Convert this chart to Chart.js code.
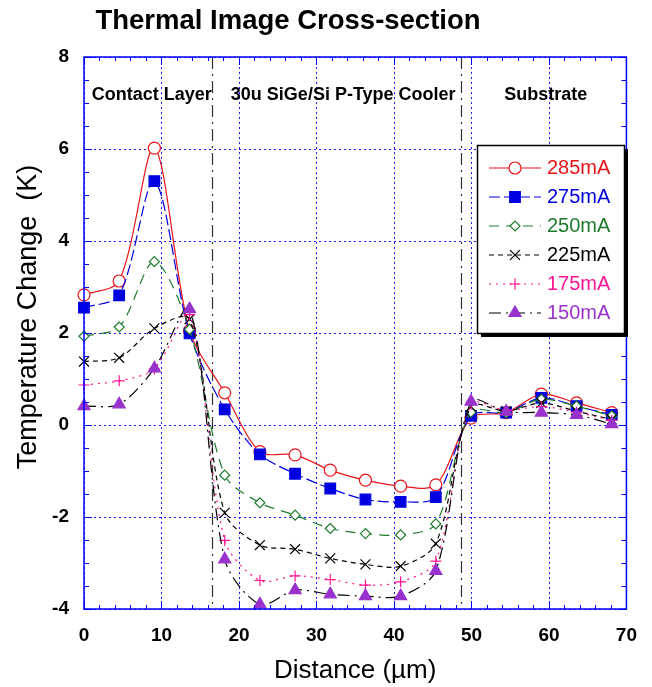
<!DOCTYPE html>
<html><head><meta charset="utf-8">
<script src="https://cdn.jsdelivr.net/npm/chart.js@4.4.1/dist/chart.umd.min.js"></script>
<style>html,body{margin:0;padding:0;background:#fff}</style>
</head><body>
<canvas id="c" width="652" height="687"></canvas>
<script>
// ---- data ----
const distance  = [0, 4.54, 9.08, 13.62, 18.16, 22.7, 27.24, 31.78, 36.32, 40.86, 45.4, 49.94, 54.48, 59.02, 63.56, 68.1];
const series285 = [2.83, 3.13, 6.02, 2.05, 0.70, -0.58, -0.65, -0.98, -1.20, -1.33, -1.30, 0.15, 0.27, 0.67, 0.48, 0.27];
const series275 = [2.55, 2.82, 5.30, 1.99, 0.34, -0.64, -1.06, -1.38, -1.62, -1.67, -1.57, 0.20, 0.27, 0.59, 0.41, 0.22];
const series250 = [1.93, 2.13, 3.55, 2.08, -1.09, -1.69, -1.96, -2.25, -2.36, -2.39, -2.15, 0.28, 0.27, 0.56, 0.41, 0.20];
const series225 = [1.38, 1.46, 2.10, 2.30, -1.91, -2.61, -2.70, -2.90, -3.03, -3.07, -2.58, 0.40, 0.30, 0.48, 0.30, 0.12];
const series175 = [0.87, 0.96, 1.22, 2.40, -2.51, -3.38, -3.28, -3.36, -3.48, -3.41, -2.96, 0.45, 0.32, 0.40, 0.28, 0.10];
const series150 = [0.41, 0.45, 1.23, 2.52, -2.92, -3.90, -3.59, -3.68, -3.72, -3.72, -3.17, 0.51, 0.29, 0.27, 0.22, 0.02];
const seriesLabels = ['285mA', '275mA', '250mA', '225mA', '175mA', '150mA'];
const xTickValues = [0, 10, 20, 30, 40, 50, 60, 70];
const yTickValues = [-4, -2, 0, 2, 4, 6, 8];
const boundaries = [16.55, 48.7];
const regionNames = ['Contact Layer', '30u SiGe/Si P-Type Cooler', 'Substrate'];
const regionCenters = [8.75, 33.45, 59.6];

// ---- styles ----
const allSeries = [series285, series275, series250, series225, series175, series150];
const styles = [
  {line:'#e8141a', mark:'#e8141a', fill:'#ffffff', text:'#e8141a', dash:[],          ps:'circle',   r:6},
  {line:'#0000e0', mark:'#0000e0', fill:'#0000e0', text:'#0000e0', dash:[11,4],      ps:'rect',     r:7.5},
  {line:'#1e7b2e', mark:'#1e7b2e', fill:'#ffffff', text:'#1e7b2e', dash:[10,7],      ps:'rectRot',  r:5},
  {line:'#000000', mark:'#000000', fill:'#000000', text:'#000000', dash:[5,4],       ps:'crossRot', r:7},
  {line:'#ff1493', mark:'#ff1493', fill:'#ff1493', text:'#ff1493', dash:[2,5],       ps:'cross',    r:5.5},
  {line:'#000000', mark:'#9932cc', fill:'#9932cc', text:'#9932cc', dash:[12,5,2,5],  ps:'triangle', r:7}
];

const datasets = allSeries.map((vals, i) => ({
  label: seriesLabels[i],
  data: vals.map((v, k) => ({x: distance[k], y: v})),
  showLine: true,
  borderColor: styles[i].line,
  borderWidth: 1.2,
  borderDash: styles[i].dash,
  tension: 0.3,
  pointStyle: styles[i].ps,
  pointRadius: styles[i].r,
  pointHoverRadius: styles[i].r,
  pointBorderColor: styles[i].mark,
  pointBackgroundColor: styles[i].fill,
  pointBorderWidth: 1.2,
  clip: false
})).reverse();

const FONT = "'Liberation Sans', Arial, sans-serif";

const decor = {
  id: 'decor',
  beforeDatasetsDraw(chart) {
    const {ctx, chartArea: a, scales: {x, y}} = chart;
    ctx.save();
    // dotted grid at the scales' ticks
    ctx.strokeStyle = '#1a1aff';
    ctx.lineWidth = 1;
    ctx.setLineDash([2, 3]);
    ctx.beginPath();
    x.ticks.forEach(t => {
      const px = Math.round(x.getPixelForValue(t.value)) + 0.5;
      ctx.moveTo(px, a.top); ctx.lineTo(px, a.bottom);
    });
    y.ticks.forEach(t => {
      const py = Math.round(y.getPixelForValue(t.value)) + 0.5;
      ctx.moveTo(a.left, py); ctx.lineTo(a.right, py);
    });
    ctx.stroke();
    // dash-dot region boundaries
    ctx.strokeStyle = '#333';
    ctx.lineWidth = 1.2;
    ctx.setLineDash([12, 5, 2, 5]);
    boundaries.forEach(b => {
      const px = Math.round(x.getPixelForValue(b)) + 0.5;
      ctx.beginPath(); ctx.moveTo(px, a.top); ctx.lineTo(px, a.bottom); ctx.stroke();
    });
    ctx.setLineDash([]);
    // region labels
    ctx.fillStyle = '#000';
    ctx.font = "bold 18px " + FONT;
    ctx.textAlign = 'center';
    ctx.textBaseline = 'middle';
    regionNames.forEach((n, i) => ctx.fillText(n, x.getPixelForValue(regionCenters[i]), y.getPixelForValue(7.17)));
    ctx.restore();
  },
  afterDatasetsDraw(chart) {
    const {ctx, chartArea: a, scales: {x, y}} = chart;
    ctx.save();
    ctx.strokeStyle = '#0000ff';
    ctx.lineWidth = 1.5;
    ctx.strokeRect(a.left, a.top, a.right - a.left, a.bottom - a.top);
    ctx.lineWidth = 1;
    ctx.beginPath();
    for (let v = 0; v <= 70; v += 2) {
      const px = Math.round(x.getPixelForValue(v)) + 0.5;
      const len = (v % 10 === 0) ? 8 : 4;
      ctx.moveTo(px, a.bottom); ctx.lineTo(px, a.bottom - len);
      ctx.moveTo(px, a.top); ctx.lineTo(px, a.top + len);
    }
    for (let v = -4; v <= 8; v += 0.5) {
      const py = Math.round(y.getPixelForValue(v)) + 0.5;
      const len = (Math.abs(v % 2) < 1e-9) ? 8 : 5;
      ctx.moveTo(a.left, py); ctx.lineTo(a.left + len, py);
      ctx.moveTo(a.right, py); ctx.lineTo(a.right - len, py);
    }
    ctx.stroke();
    ctx.restore();
  },
  afterDraw(chart) {
    const {ctx} = chart;
    ctx.save();
    // main title
    ctx.fillStyle = '#000';
    ctx.font = "bold 27.5px " + FONT;
    ctx.textAlign = 'center';
    ctx.textBaseline = 'middle';
    ctx.fillText('Thermal Image Cross-section', 288, 21);
    // y axis title
    ctx.save();
    ctx.translate(29, 317);
    ctx.rotate(-Math.PI / 2);
    ctx.font = "27px " + FONT;
    ctx.fillText('Temperature Change  (K)', 0, 0);
    ctx.restore();
    // legend
    const L = 477, T = 145, W = 147, H = 188;
    ctx.fillStyle = '#000';
    ctx.fillRect(L + 4, T + 4, W, H);
    ctx.fillStyle = '#fff';
    ctx.fillRect(L, T, W, H);
    ctx.strokeStyle = '#000';
    ctx.lineWidth = 1.5;
    ctx.strokeRect(L + 0.5, T + 0.5, W, H);
    styles.forEach((s, i) => {
      const yy = 168 + i * 29;
      ctx.strokeStyle = s.line;
      ctx.lineWidth = 1.2;
      ctx.setLineDash(s.dash);
      ctx.beginPath(); ctx.moveTo(489, yy); ctx.lineTo(541, yy); ctx.stroke();
      ctx.setLineDash([]);
      ctx.strokeStyle = s.mark;
      ctx.fillStyle = s.fill;
      if (Chart.helpers && Chart.helpers.drawPoint) {
        Chart.helpers.drawPoint(ctx, {pointStyle: s.ps, radius: s.r, rotation: 0, borderWidth: 1.2}, 515, yy);
      }
      ctx.fillStyle = s.text;
      ctx.font = "20px " + FONT;
      ctx.textAlign = 'left';
      ctx.textBaseline = 'middle';
      ctx.fillText(seriesLabels[i], 547, yy);
    });
    ctx.restore();
  }
};

const gridOpts = {display: false, drawTicks: false};

new Chart(document.getElementById('c'), {
  type: 'scatter',
  data: {datasets},
  plugins: [decor],
  options: {
    responsive: false,
    animation: false,
    devicePixelRatio: 1,
    layout: {padding: {top: 57, right: 24, left: 0, bottom: 0}},
    plugins: {legend: {display: false}, tooltip: {enabled: false}, title: {display: false}},
    scales: {
      x: {
        type: 'linear', min: 0, max: 70,
        afterBuildTicks: s => { s.ticks = xTickValues.map(v => ({value: v})); },
        afterFit: s => { s.height = 78; },
        ticks: {color: '#000', padding: 15, font: {family: FONT, size: 19, weight: 'bold'}},
        grid: gridOpts,
        border: {display: false},
        title: {display: true, text: 'Distance (\u00b5m)', color: '#000', font: {family: FONT, size: 26}, padding: {top: 0, bottom: 1}}
      },
      y: {
        type: 'linear', min: -4, max: 8,
        afterBuildTicks: s => { s.ticks = yTickValues.map(v => ({value: v})); },
        afterFit: s => { s.width = 84; },
        ticks: {color: '#000', padding: 15, font: {family: FONT, size: 19, weight: 'bold'}},
        grid: gridOpts,
        border: {display: false}
      }
    }
  }
});
</script>
</body></html>
